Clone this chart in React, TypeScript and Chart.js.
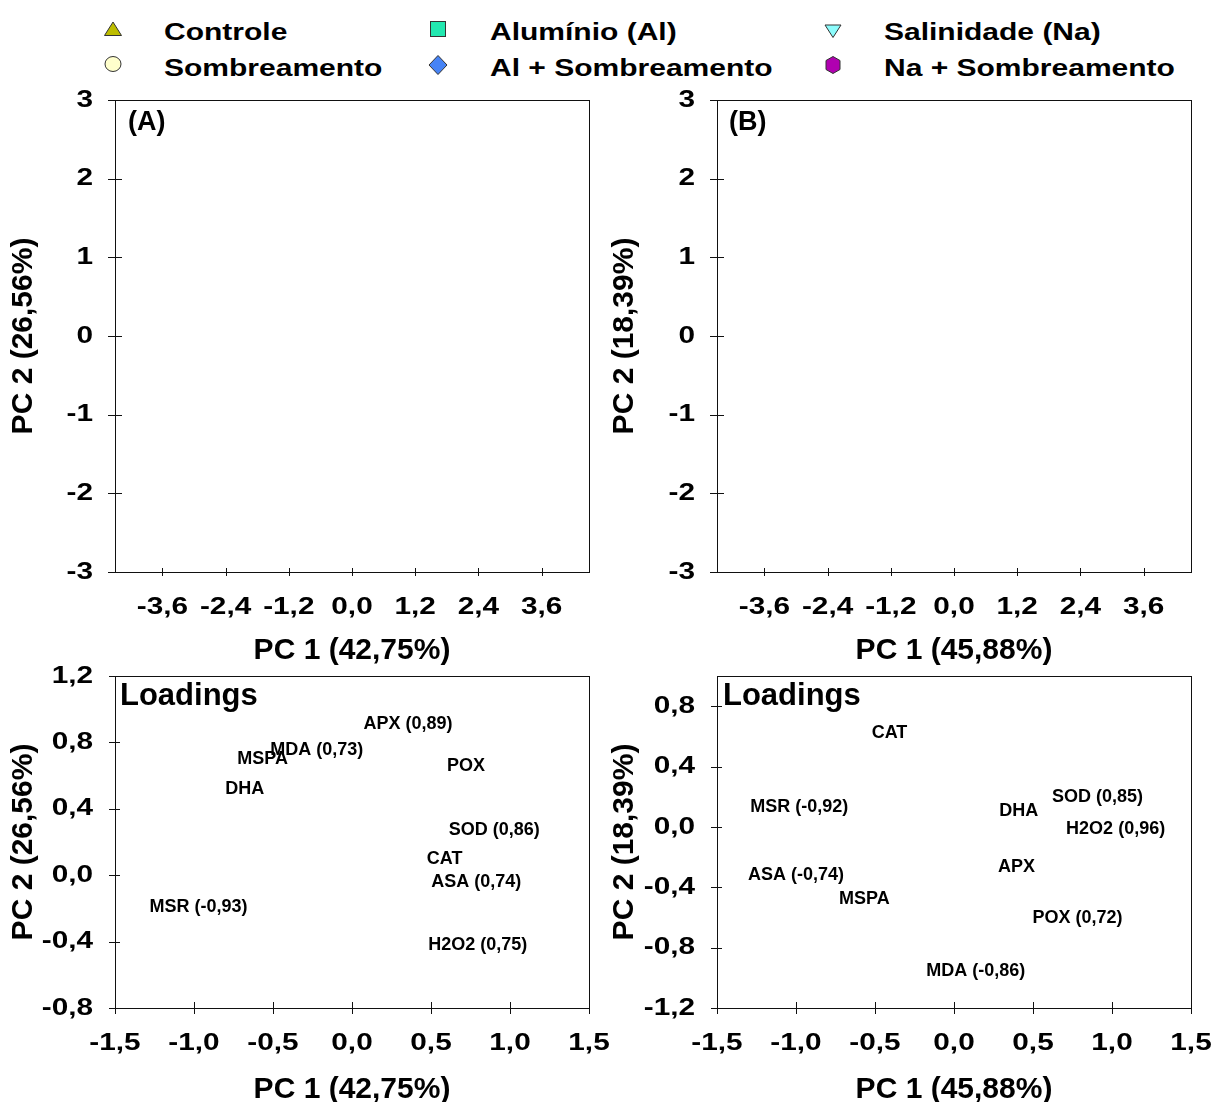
import React, { useEffect, useRef } from "react";
import { Chart, registerables } from "chart.js";

Chart.register(...registerables);

// ---------------- DATA ----------------
const treatmentNames = [
  "Controle",
  "Alumínio (Al)",
  "Salinidade (Na)",
  "Sombreamento",
  "Al + Sombreamento",
  "Na + Sombreamento",
];
const treatmentColors = ["#BDBD00", "#22E8B0", "#8CFCFC", "#FFFFCC", "#4683F5", "#B000B0"];
const treatmentShapes = ["triangle", "rect", "triangleDown", "circle", "diamond", "hexagon"];

const scoreXTicks = [-3.6, -2.4, -1.2, 0, 1.2, 2.4, 3.6];
const scoreYTicks = [-3, -2, -1, 0, 1, 2, 3];
const loadXTicks = [-1.5, -1, -0.5, 0, 0.5, 1, 1.5];
const loadYTicksA = [-0.8, -0.4, 0, 0.4, 0.8, 1.2];
const loadYTicksB = [-1.2, -0.8, -0.4, 0, 0.4, 0.8];

// Loadings (A) – label centres
const loadLabelsA = ["APX (0,89)", "MDA (0,73)", "MSPA", "POX", "DHA", "SOD (0,86)", "CAT", "ASA (0,74)", "MSR (-0,93)", "H2O2 (0,75)"];
const loadXA = [0.354, -0.223, -0.566, 0.721, -0.679, 0.9, 0.586, 0.787, -0.972, 0.796];
const loadYA = [0.911, 0.755, 0.701, 0.655, 0.521, 0.27, 0.096, -0.044, -0.19, -0.42];

// Loadings (B) – label centres
const loadLabelsB = ["CAT", "MSR (-0,92)", "DHA", "SOD (0,85)", "H2O2 (0,96)", "APX", "ASA (-0,74)", "MSPA", "POX (0,72)", "MDA (-0,86)"];
const loadXB = [-0.408, -0.979, 0.41, 0.908, 1.023, 0.395, -1.0, -0.567, 0.782, 0.138];
const loadYB = [0.622, 0.132, 0.108, 0.198, -0.017, -0.268, -0.319, -0.48, -0.606, -0.956];

// ---------------- STYLE ----------------
const FONT = "'Liberation Sans', Arial, Helvetica, sans-serif";
const TICK_SX = 1.24;

const fmtInt = (v: number) => String(Math.round(v));
const fmt1 = (v: number) => (Math.abs(v) < 1e-9 ? "0,0" : v.toFixed(1).replace(".", ","));

const decoPlugin = {
  id: "deco",
  afterDraw(chart: any, _args: any, opts: any) {
    const { ctx, chartArea: a, scales } = chart;
    const xs = scales.x;
    const ys = scales.y;
    ctx.save();
    // frame
    ctx.strokeStyle = "#111";
    ctx.lineWidth = 1;
    ctx.strokeRect(Math.round(a.left) + 0.5, Math.round(a.top) + 0.5, Math.round(a.right - a.left), Math.round(a.bottom - a.top));
    // crossing tick marks
    ctx.beginPath();
    for (const t of xs.ticks) {
      const px = Math.round(xs.getPixelForValue(t.value)) + 0.5;
      ctx.moveTo(px, a.bottom - opts.xIn);
      ctx.lineTo(px, a.bottom + opts.xOut);
    }
    for (const t of ys.ticks) {
      const py = Math.round(ys.getPixelForValue(t.value)) + 0.5;
      ctx.moveTo(a.left - opts.yOut, py);
      ctx.lineTo(a.left + opts.yIn, py);
    }
    ctx.stroke();
    // tick labels (slightly widened, like the reference)
    ctx.fillStyle = "#000";
    ctx.font = `bold 24px ${FONT}`;
    ctx.textBaseline = "middle";
    ctx.save();
    ctx.scale(TICK_SX, 1);
    ctx.textAlign = "center";
    for (const t of xs.ticks) {
      const px = xs.getPixelForValue(t.value);
      ctx.fillText(opts.xFmt(t.value), px / TICK_SX, a.bottom + 35);
    }
    ctx.textAlign = "right";
    for (const t of ys.ticks) {
      const py = ys.getPixelForValue(t.value);
      ctx.fillText(opts.yFmt(t.value), (a.left - 22) / TICK_SX, py);
    }
    ctx.restore();
    // panel label
    if (opts.panel) {
      ctx.fillStyle = "#000";
      ctx.font = `bold ${opts.panel.size}px ${FONT}`;
      ctx.textAlign = "left";
      ctx.textBaseline = "middle";
      ctx.fillText(opts.panel.text, a.left + opts.panel.dx, a.top + opts.panel.dy);
    }
    // point labels
    if (opts.labels) {
      const meta = chart.getDatasetMeta(0);
      ctx.fillStyle = "#000";
      ctx.font = `bold 18px ${FONT}`;
      ctx.textAlign = "center";
      ctx.textBaseline = "middle";
      meta.data.forEach((el: any, i: number) => {
        ctx.fillText(opts.labels[i], el.x, el.y);
      });
    }
    ctx.restore();
  },
};

type PanelDef = {
  left: number;
  top: number;
  w: number;
  h: number;
  padTop: number;
  padRight: number;
  yAxisW: number;
  xAxisH: number;
  xMin: number;
  xMax: number;
  yMin: number;
  yMax: number;
  xTicks: number[];
  yTicks: number[];
  xTitle: string;
  yTitle: string;
  yTitlePad: number;
  xTitlePad: number;
  datasets: any[];
  deco: any;
};

function buildConfig(p: PanelDef): any {
  const titleFont = { family: FONT, size: 30, weight: "bold" as const, lineHeight: 1.2 };
  return {
    type: "scatter",
    data: { datasets: p.datasets },
    options: {
      responsive: false,
      maintainAspectRatio: false,
      animation: false,
      devicePixelRatio: 1,
      events: [],
      layout: { padding: { top: p.padTop, right: p.padRight, left: 0, bottom: 0 } },
      plugins: {
        legend: { display: false },
        tooltip: { enabled: false },
        deco: p.deco,
      },
      scales: {
        x: {
          type: "linear",
          position: "bottom",
          min: p.xMin,
          max: p.xMax,
          grid: { display: false, drawTicks: false },
          border: { display: false },
          ticks: { display: false, autoSkip: false, maxRotation: 0, minRotation: 0 },
          title: { display: true, text: p.xTitle, font: titleFont, color: "#000", padding: { top: 0, bottom: p.xTitlePad } },
          afterBuildTicks: (s: any) => {
            s.ticks = p.xTicks.map((v) => ({ value: v }));
          },
          afterFit: (s: any) => {
            s.height = p.xAxisH;
            s.paddingLeft = 0;
            s.paddingRight = 0;
          },
        },
        y: {
          type: "linear",
          position: "left",
          min: p.yMin,
          max: p.yMax,
          grid: { display: false, drawTicks: false },
          border: { display: false },
          ticks: { display: false, autoSkip: false },
          title: { display: true, text: p.yTitle, font: titleFont, color: "#000", padding: { top: p.yTitlePad, bottom: 0 } },
          afterBuildTicks: (s: any) => {
            s.ticks = p.yTicks.map((v) => ({ value: v }));
          },
          afterFit: (s: any) => {
            s.width = p.yAxisW;
            s.paddingTop = 0;
            s.paddingBottom = 0;
          },
        },
      },
    },
    plugins: [decoPlugin],
  };
}

function Panel({ def }: { def: PanelDef }) {
  const ref = useRef<HTMLCanvasElement>(null);
  useEffect(() => {
    if (!ref.current) return;
    const chart = new Chart(ref.current, buildConfig(def));
    return () => chart.destroy();
  }, []);
  return (
    <canvas
      ref={ref}
      width={def.w}
      height={def.h}
      style={{ position: "absolute", left: def.left, top: def.top, width: def.w, height: def.h }}
    />
  );
}

const scoreDatasets = () =>
  treatmentNames.map((n, i) => ({
    label: n,
    data: [] as any[],
    backgroundColor: treatmentColors[i],
    borderColor: "#333",
    pointStyle: treatmentShapes[i] === "diamond" ? "rectRot" : treatmentShapes[i] === "triangleDown" ? "triangle" : treatmentShapes[i] === "hexagon" ? "circle" : treatmentShapes[i],
  }));

const loadDataset = (xs: number[], ys: number[]) => [
  {
    label: "Loadings",
    data: xs.map((x, i) => ({ x, y: ys[i] })),
    pointRadius: 0,
    showLine: false,
  },
];

const panelA: PanelDef = {
  left: 0, top: 70, w: 612, h: 610, padTop: 30, padRight: 23, yAxisW: 115, xAxisH: 108,
  xMin: -4.5, xMax: 4.5, yMin: -3, yMax: 3, xTicks: scoreXTicks, yTicks: scoreYTicks,
  xTitle: "PC 1 (42,75%)", yTitle: "PC 2 (26,56%)", yTitlePad: 6, xTitlePad: 11,
  datasets: scoreDatasets(),
  deco: { xIn: 4, xOut: 4, yIn: 7, yOut: 7, xFmt: fmt1, yFmt: fmtInt, panel: { text: "(A)", size: 27, dx: 13, dy: 23 } },
};
const panelB: PanelDef = {
  left: 600, top: 70, w: 616, h: 610, padTop: 30, padRight: 25, yAxisW: 117, xAxisH: 108,
  xMin: -4.5, xMax: 4.5, yMin: -3, yMax: 3, xTicks: scoreXTicks, yTicks: scoreYTicks,
  xTitle: "PC 1 (45,88%)", yTitle: "PC 2 (18,39%)", yTitlePad: 7, xTitlePad: 11,
  datasets: scoreDatasets(),
  deco: { xIn: 4, xOut: 4, yIn: 7, yOut: 7, xFmt: fmt1, yFmt: fmtInt, panel: { text: "(B)", size: 27, dx: 12, dy: 23 } },
};
const panelC: PanelDef = {
  left: 0, top: 646, w: 616, h: 470, padTop: 30, padRight: 27, yAxisW: 115, xAxisH: 108,
  xMin: -1.5, xMax: 1.5, yMin: -0.8, yMax: 1.2, xTicks: loadXTicks, yTicks: loadYTicksA,
  xTitle: "PC 1 (42,75%)", yTitle: "PC 2 (26,56%)", yTitlePad: 6, xTitlePad: 8,
  datasets: loadDataset(loadXA, loadYA),
  deco: { xIn: 6, xOut: 6, yIn: 5, yOut: 6, xFmt: fmt1, yFmt: fmt1, panel: { text: "Loadings", size: 31, dx: 5, dy: 20 }, labels: loadLabelsA },
};
const panelD: PanelDef = {
  left: 600, top: 646, w: 616, h: 470, padTop: 30, padRight: 25, yAxisW: 117, xAxisH: 108,
  xMin: -1.5, xMax: 1.5, yMin: -1.2, yMax: 1.0, xTicks: loadXTicks, yTicks: loadYTicksB,
  xTitle: "PC 1 (45,88%)", yTitle: "PC 2 (18,39%)", yTitlePad: 7, xTitlePad: 8,
  datasets: loadDataset(loadXB, loadYB),
  deco: { xIn: 6, xOut: 6, yIn: 5, yOut: 6, xFmt: fmt1, yFmt: fmt1, panel: { text: "Loadings", size: 31, dx: 6, dy: 20 }, labels: loadLabelsB },
};

// ---------------- LEGEND ----------------
const legendPos = [
  { mx: 113, my: 28.5, tx: 164, ty: 20 },
  { mx: 438, my: 29, tx: 490, ty: 20 },
  { mx: 832.5, my: 31, tx: 884, ty: 20 },
  { mx: 113, my: 64, tx: 164, ty: 56 },
  { mx: 438, my: 65, tx: 490, ty: 56 },
  { mx: 832.5, my: 65, tx: 884, ty: 56 },
];

function Marker({ shape, color }: { shape: string; color: string }) {
  const st = { fill: color, stroke: "#333", strokeWidth: 1 };
  let el: any = null;
  if (shape === "triangle") el = <polygon points="10,3 18.5,16.5 1.5,16.5" {...st} />;
  else if (shape === "triangleDown") el = <polygon points="2,4 18,4 10,16.5" {...st} />;
  else if (shape === "rect") el = <rect x={2.5} y={2.5} width={15} height={15} {...st} />;
  else if (shape === "circle") el = <ellipse cx={10} cy={10} rx={8} ry={7.5} {...st} />;
  else if (shape === "diamond") el = <polygon points="10,0.5 19,10 10,19.5 1,10" {...st} />;
  else if (shape === "hexagon") el = <polygon points="10,1.5 17,5.5 17,14.5 10,18.5 3,14.5 3,5.5" {...st} />;
  return (
    <svg width={20} height={20} viewBox="0 0 20 20" style={{ display: "block" }}>
      {el}
    </svg>
  );
}

function Legend() {
  return (
    <>
      {treatmentNames.map((n, i) => (
        <React.Fragment key={n}>
          <div style={{ position: "absolute", left: legendPos[i].mx - 10, top: legendPos[i].my - 10, width: 20, height: 20 }}>
            <Marker shape={treatmentShapes[i]} color={treatmentColors[i]} />
          </div>
          <div
            style={{
              position: "absolute",
              left: legendPos[i].tx,
              top: legendPos[i].ty,
              font: `bold 24px ${FONT}`,
              lineHeight: "24px",
              whiteSpace: "nowrap",
              color: "#000",
              transform: "scaleX(1.25)",
              transformOrigin: "left center",
            }}
          >
            {n}
          </div>
        </React.Fragment>
      ))}
    </>
  );
}

export default function App() {
  return (
    <div style={{ position: "absolute", left: 0, top: 0, width: 1216, height: 1102, overflow: "hidden", background: "#fff" }}>
      <Legend />
      <Panel def={panelA} />
      <Panel def={panelB} />
      <Panel def={panelC} />
      <Panel def={panelD} />
    </div>
  );
}
